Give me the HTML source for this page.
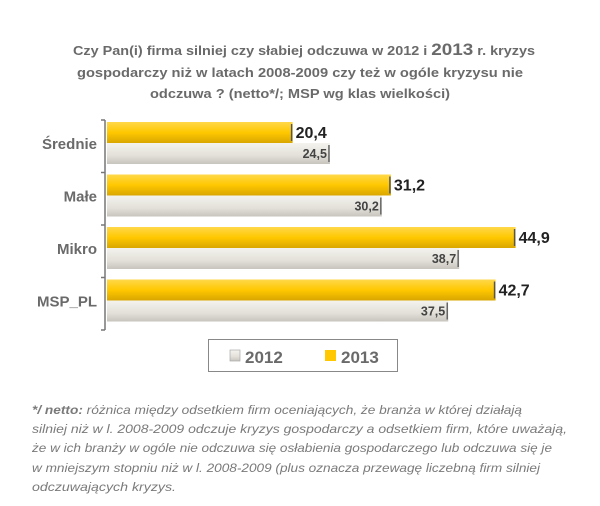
<!DOCTYPE html>
<html><head><meta charset="utf-8"><style>
html,body{margin:0;padding:0;background:#fff;}
svg{display:block;font-family:"Liberation Sans",sans-serif;}
</style></head><body>
<svg width="600" height="506" viewBox="0 0 600 506">
<defs>
<linearGradient id="gy" x1="0" y1="0" x2="0" y2="1"><stop offset="0" stop-color="#ffd84a"/><stop offset="0.5" stop-color="#ffc800"/><stop offset="1" stop-color="#d9a600"/></linearGradient>
<linearGradient id="gg" x1="0" y1="0" x2="0" y2="1"><stop offset="0" stop-color="#f4f3ee"/><stop offset="0.6" stop-color="#e2e0d8"/><stop offset="1" stop-color="#c6c4bc"/></linearGradient>
</defs>
<g fill="#6a6a6a" font-weight="bold" font-size="13" text-anchor="middle">
<text x="304" y="55" textLength="462" lengthAdjust="spacingAndGlyphs">Czy Pan(i) firma silniej czy słabiej odczuwa w 2012 i <tspan font-size="17">2013</tspan> r. kryzys</text>
<text x="300" y="77" textLength="446" lengthAdjust="spacingAndGlyphs">gospodarczy niż w latach 2008-2009 czy też w ogóle kryzysu nie</text>
<text x="300" y="98" textLength="300" lengthAdjust="spacingAndGlyphs">odczuwa ? (netto*/; MSP wg klas wielkości)</text>
</g>
<g id="plot"></g>
<g>
<rect x="208.5" y="339.5" width="189" height="32" fill="#fff" stroke="#888" stroke-width="1"/>
<rect x="230" y="350" width="10" height="11" fill="url(#gg)" stroke="#aaa" stroke-width="0.7"/>
<text x="245" y="363" font-size="17" font-weight="bold" fill="#6a6a6a">2012</text>
<rect x="325" y="350" width="11" height="11" fill="#ffc800"/>
<text x="341" y="363" font-size="17" font-weight="bold" fill="#6a6a6a">2013</text>
</g>
<g fill="#7a7a7a" font-size="12" font-style="italic">
<text x="32" y="414" textLength="490" lengthAdjust="spacingAndGlyphs"><tspan font-weight="bold">*/ netto:</tspan> różnica między odsetkiem firm oceniających, że branża w której działają</text>
<text x="32" y="433" textLength="535" lengthAdjust="spacingAndGlyphs">silniej niż w l. 2008-2009 odczuje kryzys gospodarczy a odsetkiem firm, które uważają,</text>
<text x="32" y="452" textLength="520" lengthAdjust="spacingAndGlyphs">że  w ich branży w ogóle nie odczuwa się osłabienia gospodarczego lub odczuwa się je</text>
<text x="32" y="472" textLength="508" lengthAdjust="spacingAndGlyphs">w  mniejszym stopniu niż w l. 2008-2009 (plus oznacza przewagę liczebną firm silniej</text>
<text x="32" y="491" textLength="144" lengthAdjust="spacingAndGlyphs">odczuwających kryzys.</text>
</g>
</svg>
<script>
const categories = ["Średnie", "Małe", "Mikro", "MSP_PL"];
const values2013 = [20.4, 31.2, 44.9, 42.7];
const values2012 = [24.5, 30.2, 38.7, 37.5];
const labels2013 = ["20,4", "31,2", "44,9", "42,7"];
const labels2012 = ["24,5", "30,2", "38,7", "37,5"];

const NS = "http://www.w3.org/2000/svg";
const plot = document.getElementById('plot');
const x0 = 107, pxPer = 9.1, yTop = 120, band = 52.5, barH = 21, off = 2;
const xs = v => x0 + v * pxPer;
const yb = i => yTop + i * band;
function mk(tag, attrs) { const e = document.createElementNS(NS, tag); for (const k in attrs) e.setAttribute(k, attrs[k]); plot.appendChild(e); return e; }

categories.forEach((c, i) => {
  const y = yb(i) + off;
  let r = mk('rect', {x: x0, y: y, width: xs(values2013[i]) - x0, height: barH, fill: 'url(#gy)'});
  
  
  let e = mk('line', {x1: xs(values2013[i]) - 1, x2: xs(values2013[i]) - 1, y1: y + 2, y2: y + barH - 2, stroke: '#555', 'stroke-width': 1.5});
  
  
  let r2 = mk('rect', {x: x0, y: y + barH, width: xs(values2012[i]) - x0, height: barH, fill: 'url(#gg)'});
  
  
  let e2 = mk('line', {x1: xs(values2012[i]) - 1, x2: xs(values2012[i]) - 1, y1: y + barH + 2, y2: y + 2 * barH - 2, stroke: '#666', 'stroke-width': 1.5});
  
  
  let t = mk('text', {x: xs(values2013[i]) + 3, y: y + 16, 'font-size': 16, 'font-weight': 'bold', fill: '#222'});
  t.textContent = labels2013[i];
  
  
  let t2 = mk('text', {x: xs(values2012[i]) - 3, y: y + barH + 15, 'font-size': 12.5, 'font-weight': 'bold', fill: '#444', 'text-anchor': 'end'});
  t2.textContent = labels2012[i];
  
  
  let cl = mk('text', {x: 97, y: y + barH + 6, 'font-size': 15, 'font-weight': 'bold', fill: '#6a6a6a', 'text-anchor': 'end'});
  cl.textContent = c;
  
  
});
let ax = mk('line', {x1: x0 - 2, x2: x0 - 2, y1: yTop, y2: yb(categories.length), stroke: '#777', 'stroke-width': 1.5});


for (let i = 0; i <= categories.length; i++) {
  let tk = mk('line', {x1: x0 - 6, x2: x0 - 2, y1: yb(i), y2: yb(i), stroke: '#777', 'stroke-width': 1.5});
  
  
}
</script>
</body></html>
